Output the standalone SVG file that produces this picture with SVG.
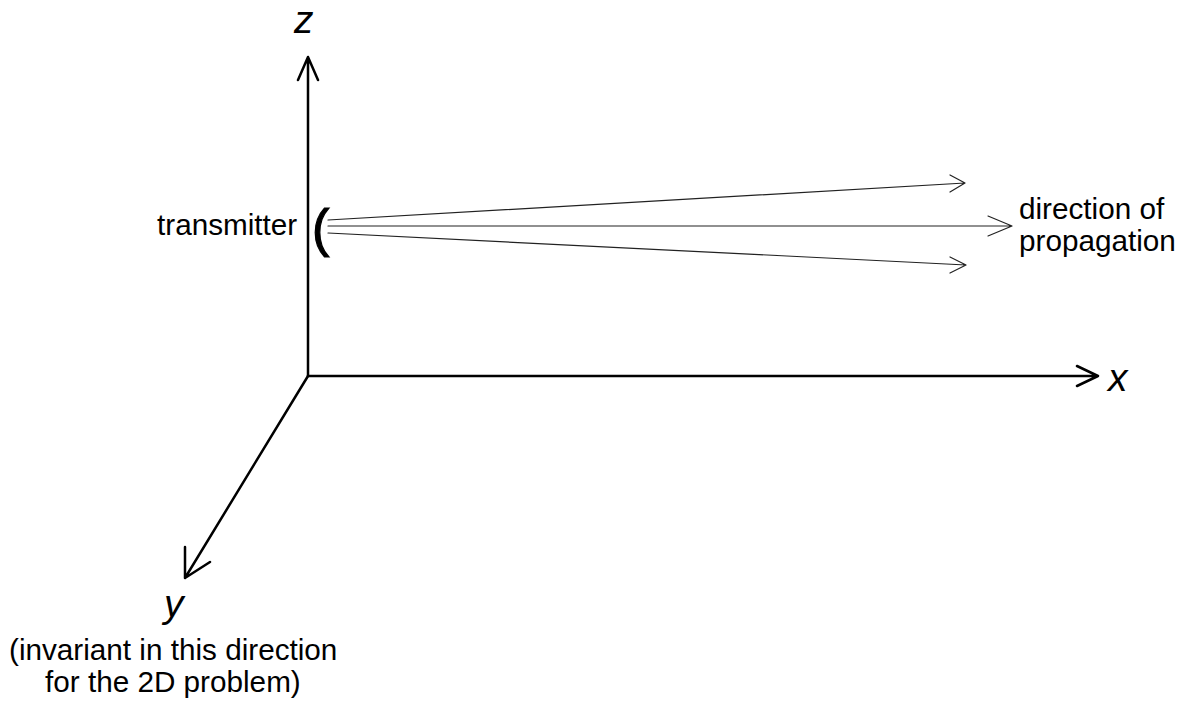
<svg xmlns="http://www.w3.org/2000/svg" width="1181" height="704" viewBox="0 0 1181 704">
<style>
.axis{stroke:#000;stroke-width:2.5;fill:none;stroke-linecap:round;stroke-linejoin:round}
.ray{stroke:#222;stroke-width:1.2;fill:none;stroke-linecap:round;stroke-linejoin:round}
.lbl{font-family:"Liberation Sans",Arial,sans-serif;font-size:29.7px;fill:#000}
.ax{font-family:"Liberation Sans",Arial,sans-serif;font-size:39px;font-style:italic;fill:#000}
</style>
<rect width="1181" height="704" fill="#fff"/>
<g id="connectors">
<path class="axis" d="M308,376 L308,57 M298,80 L308,57 L318,80"/>
<path class="axis" d="M308,376 L1098,376 M1077,366 L1098,376 L1077,386"/>
<path class="axis" d="M308,376 L185,578 M185,547 L185,578 L210,562"/>
<path class="ray" d="M328,220 L965,183 M950,175 L965,183 L950,192"/>
<path class="ray" d="M328,226 L1012,226 M988,216 L1012,226 L988,236"/>
<path class="ray" d="M328,233 L966,265 M950,257 L966,265 L950,273"/>
</g>
<g id="z-label"><text class="ax" x="294" y="33">z</text></g>
<g id="x-label"><text class="ax" x="1108" y="391">x</text></g>
<g id="y-label"><text class="ax" x="164" y="617">y</text></g>
<g id="transmitter">
<text class="lbl" x="157" y="235">transmitter</text>
<text font-family="Liberation Sans,Arial,sans-serif" font-size="52" x="312" y="246" stroke="#000" stroke-width="1.2">(</text>
</g>
<g id="direction">
<text class="lbl" x="1019" y="219">direction of</text>
<text class="lbl" x="1019" y="251">propagation</text>
</g>
<g id="invariant">
<text class="lbl" x="9" y="660">(invariant in this direction</text>
<text class="lbl" x="45" y="692">for the 2D problem)</text>
</g>
</svg>
